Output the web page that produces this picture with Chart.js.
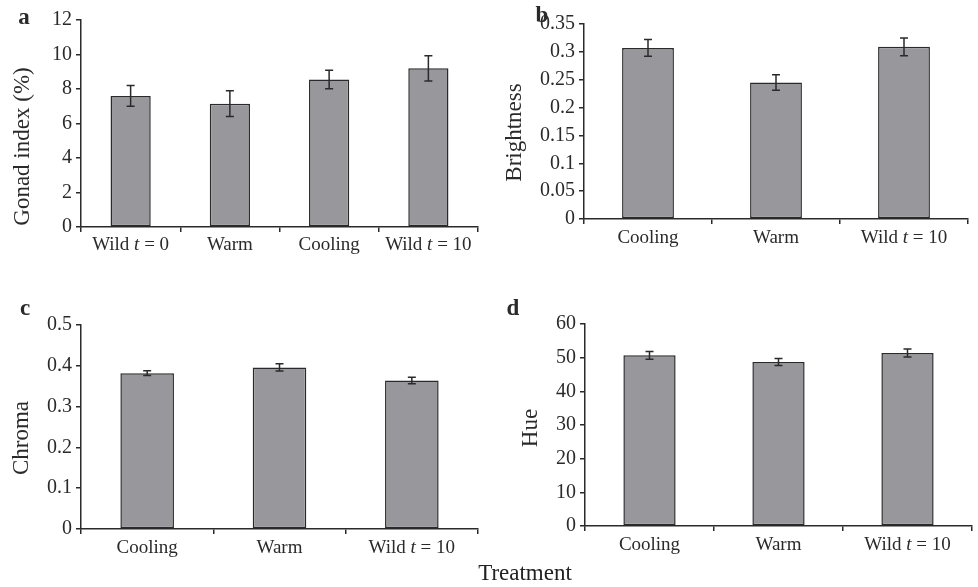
<!DOCTYPE html>
<html lang="en">
<head>
    <meta charset="UTF-8">
    <title>Treatment effects</title>
    <script src="https://cdn.jsdelivr.net/npm/chart.js"></script>
    <style>
        body { margin: 0; background: #fff; font-family: "Liberation Serif", "DejaVu Serif", serif; }
        #page { position: relative; width: 978px; height: 587px; }
        .panel { position: absolute; }
        #treatment {
            position: absolute;
            left: 425px; width: 200px; top: 560px;
            text-align: center;
            font-size: 23px; color: #222;
        }
    </style>
</head>
<body>
<div id="page">
    <div class="panel" style="left:0;top:0;width:489px;height:262px"><canvas id="chartA"></canvas></div>
    <div class="panel" style="left:489px;top:0;width:489px;height:262px"><canvas id="chartB"></canvas></div>
    <div class="panel" style="left:0;top:290px;width:489px;height:275px"><canvas id="chartC"></canvas></div>
    <div class="panel" style="left:489px;top:290px;width:489px;height:275px"><canvas id="chartD"></canvas></div>
    <div id="treatment">Treatment</div>
</div>

<script>
    // data
    const gonadLabels = ['Wild t = 0', 'Warm', 'Cooling', 'Wild t = 10'];
    const gonadValues = [7.6, 7.15, 8.55, 9.2];
    const gonadErrors = [0.6, 0.75, 0.53, 0.73];
    const gonadTicks = [0, 2, 4, 6, 8, 10, 12];

    const colourLabels = ['Cooling', 'Warm', 'Wild t = 10'];

    const brightnessValues = [0.307, 0.245, 0.309];
    const brightnessErrors = [0.015, 0.014, 0.016];
    const brightnessTicks = [0, 0.05, 0.1, 0.15, 0.2, 0.25, 0.3, 0.35];

    const chromaValues = [0.382, 0.396, 0.364];
    const chromaErrors = [0.0057, 0.0088, 0.0078];
    const chromaTicks = [0, 0.1, 0.2, 0.3, 0.4, 0.5];

    const hueValues = [50.7, 48.7, 51.4];
    const hueErrors = [1.15, 1.05, 1.2];
    const hueTicks = [0, 10, 20, 30, 40, 50, 60];

    const ink = '#2a2a2a';
    const barGrey = '#98979c';

    // error bars, drawn through the y scale
    const errorBars = {
        id: 'errorBars',
        afterDatasetsDraw(chart, args, opts) {
            const ctx = chart.ctx;
            const y = chart.scales.y;
            const meta = chart.getDatasetMeta(0);
            const values = chart.data.datasets[0].data;
            ctx.save();
            ctx.strokeStyle = ink;
            ctx.lineWidth = 1.5;
            meta.data.forEach((bar, i) => {
                const hi = y.getPixelForValue(values[i] + opts.errors[i]);
                const lo = y.getPixelForValue(values[i] - opts.errors[i]);
                const x = bar.x;
                ctx.beginPath();
                ctx.moveTo(x, hi); ctx.lineTo(x, lo);
                ctx.moveTo(x - 4, hi); ctx.lineTo(x + 4, hi);
                ctx.moveTo(x - 4, lo); ctx.lineTo(x + 4, lo);
                ctx.stroke();
            });
            ctx.restore();
        }
    };

    // panel letter, y title and category labels (with italic t)
    const panelText = {
        id: 'panelText',
        afterDraw(chart, args, opts) {
            const ctx = chart.ctx;
            const area = chart.chartArea;
            const xs = chart.scales.x;
            ctx.save();
            ctx.fillStyle = ink;

            ctx.font = 'bold 23px "Liberation Serif"';
            ctx.textAlign = 'center';
            ctx.textBaseline = 'alphabetic';
            ctx.fillText(opts.letter, opts.letterX, opts.letterY);

            ctx.save();
            ctx.translate(opts.titleX, (area.top + area.bottom) / 2 + opts.titleShift);
            ctx.rotate(-Math.PI / 2);
            ctx.font = '23px "Liberation Serif"';
            ctx.textBaseline = 'middle';
            ctx.fillText(opts.title, 0, 0);
            ctx.restore();

            ctx.textBaseline = 'middle';
            ctx.textAlign = 'left';
            const normal = '19px "Liberation Serif"';
            const italic = 'italic 19px "Liberation Serif"';
            chart.data.labels.forEach((label, i) => {
                const parts = label.split(/( t )/).flatMap(p =>
                    p === ' t ' ? [[' ', normal], ['t', italic], [' ', normal]] : [[p, normal]]);
                let w = 0;
                parts.forEach(([s, f]) => { ctx.font = f; w += ctx.measureText(s).width; });
                let x = xs.getPixelForValue(i) - w / 2;
                const yPos = area.bottom + opts.labelGap;
                parts.forEach(([s, f]) => {
                    ctx.font = f;
                    ctx.fillText(s, x, yPos);
                    x += ctx.measureText(s).width;
                });
            });
            ctx.restore();
        }
    };

    function makePanel(id, labels, values, errors, ticks, fmt, box, text) {
        new Chart(document.getElementById(id), {
            type: 'bar',
            data: {
                labels: labels,
                datasets: [{
                    data: values,
                    backgroundColor: barGrey,
                    borderColor: ink,
                    borderWidth: 1.5,
                    borderSkipped: false,
                    categoryPercentage: 1,
                    barPercentage: 0.405
                }]
            },
            options: {
                responsive: true,
                maintainAspectRatio: false,
                animation: false,
                events: [],
                layout: { padding: { top: box.top, right: box.right, left: 0, bottom: 0 } },
                plugins: {
                    legend: { display: false },
                    tooltip: { enabled: false },
                    errorBars: { errors: errors },
                    panelText: text
                },
                scales: {
                    x: {
                        grid: { display: true, drawOnChartArea: false, tickLength: 5, color: ink, lineWidth: 1.5, offset: true },
                        border: { display: true, color: ink, width: 1.5 },
                        ticks: { display: false },
                        afterFit(scale) { scale.height = box.xHeight; }
                    },
                    y: {
                        min: ticks[0],
                        max: ticks[ticks.length - 1],
                        afterBuildTicks(scale) { scale.ticks = ticks.map(v => ({ value: v })); },
                        grid: { display: true, drawOnChartArea: false, tickLength: 5, color: ink, lineWidth: 1.5 },
                        border: { display: true, color: ink, width: 1.5 },
                        ticks: {
                            color: ink,
                            padding: 4,
                            font: { family: 'Liberation Serif', size: 20 },
                            callback: fmt
                        },
                        afterFit(scale) { scale.width = box.left; }
                    }
                }
            },
            plugins: [errorBars, panelText]
        });
    }

    const plain = v => String(+Number(v).toFixed(2));

    makePanel('chartA', gonadLabels, gonadValues, gonadErrors, gonadTicks, plain,
        { left: 81, top: 20, right: 11, xHeight: 35 },
        { letter: 'a', letterX: 24, letterY: 24, title: 'Gonad index (%)', titleX: 23, titleShift: 23, labelGap: 18 });

    makePanel('chartB', colourLabels, brightnessValues, brightnessErrors, brightnessTicks, plain,
        { left: 95, top: 24, right: 10, xHeight: 43 },
        { letter: 'b', letterX: 53, letterY: 22, title: 'Brightness', titleX: 26, titleShift: 11, labelGap: 19 });

    makePanel('chartC', colourLabels, chromaValues, chromaErrors, chromaTicks, plain,
        { left: 81, top: 35, right: 11, xHeight: 36 },
        { letter: 'c', letterX: 25, letterY: 25, title: 'Chroma', titleX: 22, titleShift: 11, labelGap: 19 });

    makePanel('chartD', colourLabels, hueValues, hueErrors, hueTicks, plain,
        { left: 96, top: 34, right: 6, xHeight: 39 },
        { letter: 'd', letterX: 24, letterY: 25, title: 'Hue', titleX: 42, titleShift: 3, labelGap: 19 });
</script>
</body>
</html>
